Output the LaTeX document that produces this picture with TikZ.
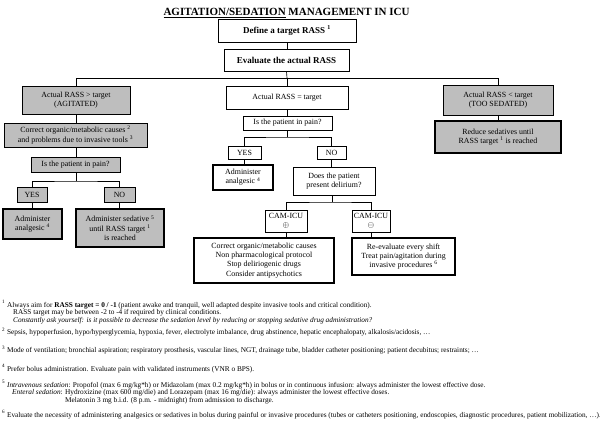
\documentclass[tikz,border=0pt]{standalone}
\usepackage{fontspec}
\setmainfont{Liberation Serif}
\definecolor{boxgray}{RGB}{190,190,190}
\newcommand\boxfont{\fontsize{7.9}{9.2}\selectfont}
\newcommand\fnfont{\fontsize{7.3}{7.5}\selectfont}
\newcommand\mkbox[7]{\node[#2, minimum width={(#5)-(#3)}, minimum height={(#6)-(#4)}] (#1) at ({((#3)+(#5))/2},{((#4)+(#6))/2}) {#7};}
\tikzset{
  bx/.style={draw, line width=0.65pt, fill=white, inner sep=0pt, align=center, font=\boxfont},
  gbx/.style={bx, fill=boxgray},
  thk/.style={line width=2pt},
  conn/.style={line width=0.65pt},
  fn/.style={anchor=base west, inner sep=0pt, font=\fnfont},
}
\begin{document}
\begin{tikzpicture}[x=1pt,y=-1pt]
\useasboundingbox (0,0) rectangle (600,423);
\fill[white] (0,0) rectangle (600,423);
% title
\node[anchor=base, inner sep=0pt, font=\fontsize{11}{13}\selectfont\bfseries] (title) at (286.5,16) {\underline{AGITATION/SEDATION} MANAGEMENT IN ICU};
% boxes
\mkbox{define}{bx,font=\fontsize{9}{11}\selectfont\bfseries}{218}{19}{356}{42}{Define a target RASS \textsuperscript{1}}
\mkbox{eval}{bx,font=\fontsize{9}{11}\selectfont\bfseries}{224}{49}{349}{71}{Evaluate the actual RASS}
\mkbox{agit}{gbx}{22}{86}{130}{114}{Actual RASS > target\\(AGITATED)}
\mkbox{eq}{bx}{226}{86}{348}{109}{Actual RASS = target}
\mkbox{sed}{gbx}{443}{85}{553}{115}{Actual RASS < target\\(TOO SEDATED)}
\mkbox{corr}{gbx}{4}{123}{147}{147}{Correct organic/metabolic causes \textsuperscript{2}\\and problems due to invasive tools \textsuperscript{3}}
\mkbox{painL}{gbx}{31}{157}{120}{172}{Is the patient in pain?}
\mkbox{yesL}{gbx}{17}{187}{47}{202}{YES}
\mkbox{noL}{gbx}{104}{187}{135}{202}{NO}
\mkbox{anaL}{gbx,thk}{3}{209}{62}{239}{Administer\\analgesic \textsuperscript{4}}
\mkbox{sedL}{gbx,thk}{76}{209}{164}{247}{Administer sedative \textsuperscript{5}\\until RASS target \textsuperscript{1}\\is reached}
\mkbox{reduce}{gbx,thk}{435}{121}{561}{153}{Reduce sedatives until\\RASS target \textsuperscript{1} is reached}
\mkbox{painM}{bx}{243}{116}{332}{130}{Is the patient in pain?}
\mkbox{yesM}{bx}{228}{146}{261}{159}{YES}
\mkbox{noM}{bx}{317}{146}{346}{159}{NO}
\mkbox{anaM}{bx,thk}{213}{165}{273}{190}{Administer\\analgesic \textsuperscript{4}}
\mkbox{del}{bx}{293}{167}{375}{195}{Does the patient\\present delirium?}
\mkbox{camP}{bx}{265}{210}{307}{232}{CAM-ICU\\$\oplus$}
\mkbox{camN}{bx}{352}{210}{390}{232}{CAM-ICU\\$\ominus$}
\mkbox{corrM}{bx,thk}{194}{238}{334}{283}{Correct organic/metabolic causes\\Non pharmacological protocol\\Stop deliriogenic drugs\\Consider antipsychotics}
\mkbox{reev}{bx,thk}{352}{238}{455}{275}{Re-evaluate every shift\\Treat pain/agitation during\\invasive procedures \textsuperscript{6}}
% connectors
\coordinate (h1) at (287,78);
\coordinate (rx) at (498,78);
\draw[conn] (define.south) -- (define.south |- eval.north);
\draw[conn] (eval.south) -- (h1);
\draw[conn] (agit.north) |- (h1);
\draw[conn] (h1) -- (rx) -- (rx |- sed.north);
\draw[conn] (h1) -- (h1 |- eq.north);
\draw[conn] (rx |- sed.south) -- (rx |- reduce.north);
\draw[conn] (agit.south) -- (agit.south |- corr.north);
\draw[conn] (agit.south |- corr.south) -- (agit.south |- painL.north);
\coordinate (bL) at (76,181);
\draw[conn] (bL |- painL.south) -- (bL);
\draw[conn] (yesL.north) |- (bL) -| (noL.north);
\draw[conn] (yesL.south) -- (yesL.south |- anaL.north);
\draw[conn] (noL.south) -- (noL.south |- sedL.north);
\draw[conn] (eq.south) -- (eq.south |- painM.north);
\coordinate (bM) at (287,137);
\draw[conn] (bM |- painM.south) -- (bM);
\draw[conn] (yesM.north) |- (bM) -| (noM.north);
\draw[conn] (yesM.south) -- (yesM.south |- anaM.north);
\draw[conn] (noM.south) -- (noM.south |- del.north);
\coordinate (bD) at (332,202);
\draw[conn] (bD |- del.south) -- (bD);
\draw[conn] (camP.north) |- (bD) -| (camN.north);
\draw[conn] (camP.south) -- (camP.south |- corrM.north);
\draw[conn] (camN.south) -- (camN.south |- reev.north);
% footnotes
\node[fn] (f1a) at (2,307) {\textsuperscript{1} Always aim for \textbf{RASS target = 0 / -1} (patient awake and tranquil, well adapted despite invasive tools and critical condition).};
\node[fn] (f1b) at (13,314.5) {RASS target may be between -2 to -4 if required by clinical conditions.};
\node[fn] (f1c) at (13,322) {\itshape Constantly ask yourself: is it possible to decrease the sedation level by reducing or stopping sedative drug administration?};
\node[fn] (f2) at (2,334.5) {\textsuperscript{2} Sepsis, hypoperfusion, hypo/hyperglycemia, hypoxia, fever, electrolyte imbalance, drug abstinence, hepatic encephalopaty, alkalosis/acidosis, …};
\node[fn] (f3) at (2,352.5) {\textsuperscript{3} Mode of ventilation; bronchial aspiration; respiratory prosthesis, vascular lines, NGT, drainage tube, bladder catheter positioning; patient decubitus; restraints; …};
\node[fn] (f4) at (2,371) {\textsuperscript{4} Prefer bolus administration. Evaluate pain with validated instruments (VNR o BPS).};
\node[fn] (f5a) at (2,387) {\textsuperscript{5} \textit{Intravenous sedation}: Propofol (max 6 mg/kg*h) or Midazolam (max 0.2 mg/kg*h) in bolus or in continuous infusion: always administer the lowest effective dose.};
\node[fn] (f5b) at (12,394.5) {\textit{Enteral sedation}: Hydroxizine (max 600 mg/die) and Lorazepam (max 16 mg/die): always administer the lowest effective doses.};
\node[fn] (f5c) at (65,402) {Melatonin 3 mg b.i.d. (8 p.m. - midnight) from admission to discharge.};
\node[fn] (f6) at (2,417) {\textsuperscript{6} Evaluate the necessity of administering analgesics or sedatives in bolus during painful or invasive procedures (tubes or catheters positioning, endoscopies, diagnostic procedures, patient mobilization, …).};
\end{tikzpicture}
\end{document}
